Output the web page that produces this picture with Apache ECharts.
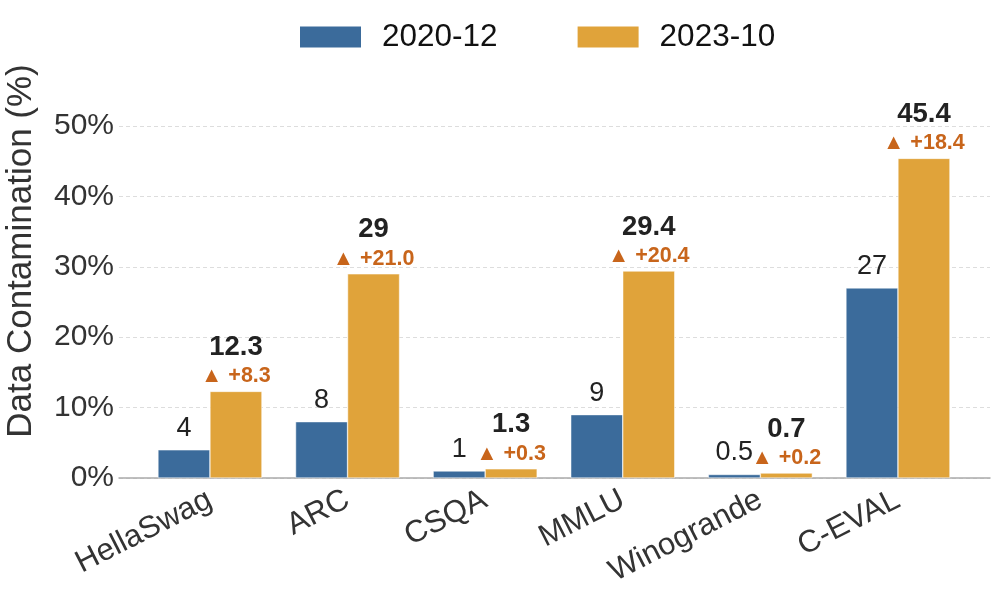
<!DOCTYPE html>
<html lang="en">
  <head>
    <meta charset="UTF-8" />
    <title>Data Contamination</title>
    <script src="https://cdn.jsdelivr.net/npm/echarts@6/dist/echarts.min.js"></script>
    <style>
      html, body { margin: 0; padding: 0; background: #fff; }
    </style>
  </head>
  <body>
    <div id="main" style="width: 997px;height:600px;"></div>
    <script type="text/javascript">
      var categories = ["HellaSwag", "ARC", "CSQA", "MMLU", "Winogrande", "C-EVAL"];
      var before = [4, 8, 1, 9, 0.5, 27]; // 2020-12
      var after = [12.3, 29, 1.3, 29.4, 0.7, 45.4]; // 2023-10
      var seriesNames = ["2020-12", "2023-10"];
      var yTicks = [0, 10, 20, 30, 40, 50];

      var blue = "#3b6b9b";
      var orange = "#e0a33a";
      var deltaColor = "#c8651b";

      // bars sit on a value axis so the outer margins can match the original
      var beforeData = before.map(function (v, i) { return [i, v]; });
      var afterData = after.map(function (v, i) { return [i, v]; });

      var myChart = echarts.init(document.getElementById("main"));
      myChart.setOption({
        animation: false,
        textStyle: { fontFamily: "Liberation Sans" },
        legend: {
          data: seriesNames,
          left: 293,
          top: 16,
          icon: "rect",
          itemWidth: 63,
          itemHeight: 23,
          itemGap: 78,
          textStyle: { fontSize: 31.5, color: "#111", padding: [0, 0, 0, 15] }
        },
        grid: { left: 119, right: 7, top: 126, bottom: 122 },
        xAxis: {
          type: "value",
          min: -0.661,
          max: 5.669,
          splitLine: { show: false },
          axisTick: { show: false },
          axisLine: { show: true, lineStyle: { color: "#aaa", width: 1.5 } },
          axisLabel: {
            customValues: categories.map(function (c, i) { return i; }),
            formatter: function (v) { return categories[Math.round(v)]; },
            rotate: 27,
            fontSize: 31,
            color: "#333",
            margin: 20
          }
        },
        yAxis: {
          type: "value",
          min: yTicks[0],
          max: yTicks[yTicks.length - 1],
          interval: 10,
          axisLine: { show: false },
          axisTick: { show: false },
          axisLabel: { formatter: "{value}%", fontSize: 30, color: "#333", margin: 5 },
          splitLine: { lineStyle: { color: "#ddd", type: [4, 3], width: 1 } }
        },
        graphic: [
          {
            type: "text",
            x: 21,
            y: 251,
            rotation: Math.PI / 2,
            style: {
              text: "Data Contamination (%)",
              fontSize: 35,
              fontFamily: "Liberation Sans",
              fill: "#333",
              textAlign: "center",
              textVerticalAlign: "middle"
            }
          }
        ],
        series: [
          {
            name: seriesNames[0],
            type: "bar",
            data: beforeData,
            barWidth: 52,
            barGap: "0%",
            itemStyle: { color: blue, borderColor: "#fff", borderWidth: 0.5 },
            label: {
              show: true,
              position: "top",
              distance: 8,
              fontSize: 27,
              color: "#222",
              formatter: function (p) { return String(p.value[1]); }
            }
          },
          {
            name: seriesNames[1],
            type: "bar",
            data: afterData,
            barWidth: 52,
            barGap: "0%",
            itemStyle: { color: orange, borderColor: "#fff", borderWidth: 0.5 },
            label: {
              show: true,
              position: "top",
              distance: 0,
              formatter: function (p) {
                var i = p.dataIndex;
                var d = (after[i] - before[i]).toFixed(1);
                return "{v|" + after[i] + "}\n{d|▲ +" + d + "}";
              },
              rich: {
                v: { fontSize: 27.5, fontWeight: "bold", color: "#222", lineHeight: 28 },
                d: { fontSize: 21.5, fontWeight: "bold", color: deltaColor, lineHeight: 30 }
              }
            }
          }
        ]
      });
    </script>
  </body>
</html>
